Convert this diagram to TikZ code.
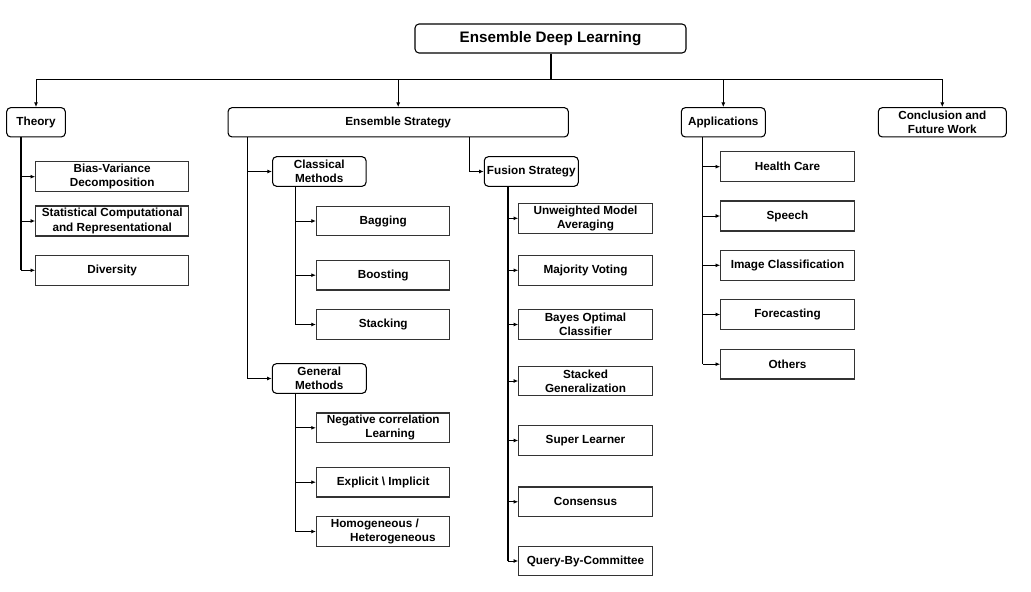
\documentclass[tikz,border=0pt]{standalone}
\usepackage{fontspec}
\setmainfont{Liberation Sans}
\usetikzlibrary{arrows.meta}
\begin{document}
\begin{tikzpicture}[x=0.75pt,y=-0.75pt]
\tikzset{
 base/.style={draw=black, line width=0.8pt, inner sep=0pt, align=center,
   font=\fontsize{8.8pt}{10.7pt}\selectfont\bfseries},
 group/.style={base, rounded corners=3pt},
 leaf/.style={base, draw=black!80},
 bw/.style={minimum width=#1*0.75pt},
 bh/.style={minimum height=#1*0.75pt},
 conn/.style={line width=0.75pt, -{Latex[length=3.5pt,width=3pt]}},
 thinline/.style={line width=0.75pt},
 midline/.style={line width=1.1pt},
 trunk/.style={line width=1.5pt},
}
\useasboundingbox (0,0) rectangle (1031,592);
\fill[white] (0,0) rectangle (1031,592);

% root
\node[group, bw=271, bh=29, font=\fontsize{11.4pt}{13pt}\selectfont\bfseries] (root) at (550.5,38.5) {Ensemble Deep Learning};

% level 1
\node[group, bw=58.6, bh=29.3] (theory) at (36,122.3) {Theory};
\node[group, bw=340.3, bh=29.3] (es) at (398.2,122.3) {Ensemble Strategy};
\node[group, bw=84, bh=29.3] (apps) at (723.3,122.3) {Applications};
\node[group, bw=128, bh=29.3] (concl) at (942.3,122.3) {Conclusion and\\Future Work};

% theory leaves
\node[leaf, bw=153, bh=30] (bias) at (112.2,176.7) {Bias-Variance\\Decomposition};
\node[leaf, bw=153, bh=30] (stat) at (112.2,221) {Statistical Computational\\and Representational};
\node[leaf, bw=153, bh=30] (div) at (112.2,270.3) {Diversity};

% ensemble strategy subgroups
\node[group, bw=93.5, bh=29.6] (classical) at (319.3,171.5) {Classical\\Methods};
\node[group, bw=94, bh=29.6] (fusion) at (531.3,171.5) {Fusion Strategy};
\node[group, bw=94, bh=29.6] (general) at (319.3,378.5) {General\\Methods};

% classical leaves
\node[leaf, bw=133.5, bh=29.6] (bagging) at (383.2,221) {Bagging};
\node[leaf, bw=133.5, bh=29.6] (boosting) at (383.2,275.2) {Boosting};
\node[leaf, bw=133.5, bh=29.6] (stacking) at (383.2,324.5) {Stacking};

% general leaves
\node[leaf, bw=133.5, bh=29.6] (neg) at (383.2,427.8) {Negative correlation\\\hspace*{1.2em}Learning};
\node[leaf, bw=133.5, bh=29.6] (expl) at (383.2,482.2) {Explicit \textbackslash{} Implicit};
\node[leaf, bw=133.5, bh=29.6, align=left] (homo) at (383.2,531.5) {Homogeneous /\\\hspace*{14.5pt}Heterogeneous};

% fusion leaves
\node[leaf, bw=133.5, bh=30] (unw) at (585.5,218.3) {Unweighted Model\\Averaging};
\node[leaf, bw=133.5, bh=30] (major) at (585.5,270.3) {Majority Voting};
\node[leaf, bw=133.5, bh=29.6] (bayes) at (585.5,324.5) {Bayes Optimal\\Classifier};
\node[leaf, bw=133.5, bh=29.6] (stgen) at (585.5,381) {Stacked\\Generalization};
\node[leaf, bw=133.5, bh=29.6] (super) at (585.5,440.5) {Super Learner};
\node[leaf, bw=133.5, bh=29.6] (cons) at (585.5,501.8) {Consensus};
\node[leaf, bw=133.5, bh=29.6] (query) at (585.5,561) {Query-By-Committee};

% application leaves
\node[leaf, bw=133.6, bh=30] (health) at (787.5,166.7) {Health Care};
\node[leaf, bw=133.6, bh=30] (speech) at (787.5,216) {Speech};
\node[leaf, bw=133.6, bh=30] (image) at (787.5,265.3) {Image Classification};
\node[leaf, bw=133.6, bh=29.6] (fore) at (787.5,314.5) {Forecasting};
\node[leaf, bw=133.6, bh=29.6] (others) at (787.5,364.2) {Others};

% top bus
\coordinate (bus) at (550.5,80);
\draw[trunk] (root.south) -- (bus);
\draw[thinline] (theory.north |- bus) -- (concl.north |- bus);
\draw[conn] (bus) -| (theory.north);
\draw[conn] (bus) -| (es.north);
\draw[conn] (bus) -| (apps.north);
\draw[conn] (bus) -| (concl.north);

% theory branch
\coordinate (tT) at (21,137);
\draw[midline] (tT) -- (tT |- div.west);
\draw[conn] (tT |- bias.west) -- (bias.west);
\draw[conn] (tT |- stat.west) -- (stat.west);
\draw[conn] (tT |- div.west) -- (div.west);

% ensemble strategy branch
\coordinate (tE) at (247.7,137);
\draw[thinline] (tE) -- (tE |- general.west);
\draw[conn] (tE |- classical.west) -- (classical.west);
\draw[conn] (tE |- general.west) -- (general.west);
\coordinate (tEF) at (469.3,137);
\draw[conn] (tEF) |- (fusion.west);

% classical branch
\coordinate (tC) at (295.7,186.3);
\draw[midline] (tC) -- (tC |- stacking.west);
\draw[conn] (tC |- bagging.west) -- (bagging.west);
\draw[conn] (tC |- boosting.west) -- (boosting.west);
\draw[conn] (tC |- stacking.west) -- (stacking.west);

% general branch
\coordinate (tG) at (295.7,393.3);
\draw[midline] (tG) -- (tG |- homo.west);
\draw[conn] (tG |- neg.west) -- (neg.west);
\draw[conn] (tG |- expl.west) -- (expl.west);
\draw[conn] (tG |- homo.west) -- (homo.west);

% fusion branch
\coordinate (tF) at (507.5,186.3);
\draw[trunk] (tF) -- (tF |- query.west);
\draw[conn] (tF |- unw.west) -- (unw.west);
\draw[conn] (tF |- major.west) -- (major.west);
\draw[conn] (tF |- bayes.west) -- (bayes.west);
\draw[conn] (tF |- stgen.west) -- (stgen.west);
\draw[conn] (tF |- super.west) -- (super.west);
\draw[conn] (tF |- cons.west) -- (cons.west);
\draw[conn] (tF |- query.west) -- (query.west);

% applications branch
\coordinate (tA) at (702.7,137);
\draw[thinline] (tA) -- (tA |- others.west);
\draw[conn] (tA |- health.west) -- (health.west);
\draw[conn] (tA |- speech.west) -- (speech.west);
\draw[conn] (tA |- image.west) -- (image.west);
\draw[conn] (tA |- fore.west) -- (fore.west);
\draw[conn] (tA |- others.west) -- (others.west);
\end{tikzpicture}
\end{document}
